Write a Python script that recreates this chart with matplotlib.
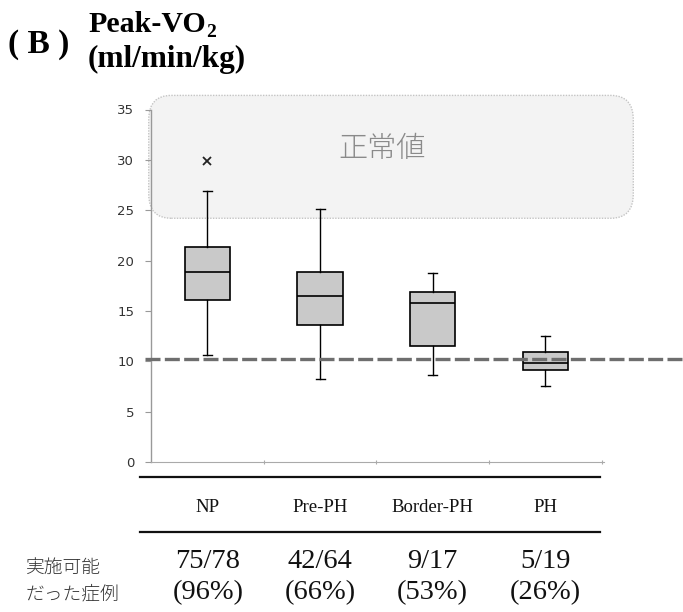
import matplotlib
matplotlib.use("Agg")
import matplotlib.pyplot as plt
from matplotlib.patches import FancyBboxPatch

# data
groups = ["NP", "Pre-PH", "Border-PH", "PH"]
whisker_low = [10.6, 8.2, 8.6, 7.5]
q1 = [16.1, 13.6, 11.5, 9.1]
median = [18.9, 16.5, 15.8, 9.8]
q3 = [21.3, 18.9, 16.9, 10.9]
whisker_high = [26.9, 25.1, 18.8, 12.5]
outliers = [[29.9], [], [], []]

done = ["75/78", "42/64", "9/17", "5/19"]
done_pct = ["(96%)", "(66%)", "(53%)", "(26%)"]

cutoff = 10.2
normal_low, normal_high = 24.2, 36.4

W, H = 683, 612
fig = plt.figure(figsize=(W / 100, H / 100), dpi=100)
ax = fig.add_axes([151 / W, 1 - 462 / H, 453 / W, (462 - 109.5) / H])

pos = list(range(1, len(groups) + 1))

# normal range band behind everything
band = FancyBboxPatch((0.48, normal_low), 4.3, normal_high - normal_low,
                      boxstyle="round,pad=0,rounding_size=0.2",
                      mutation_aspect=12,
                      facecolor="#f3f3f3", edgecolor="#c4c4c4",
                      linestyle=(0, (1, 1)), linewidth=1.0,
                      clip_on=False, zorder=0)
ax.add_patch(band)
ax.text(2.55, 31.1, "正常値", fontsize=21, color="#8a8a8a",
        family=["Noto Sans CJK JP", "DejaVu Sans"], fontweight="light",
        ha="center", va="center", zorder=1)

stats = []
for i, g in enumerate(groups):
    stats.append(dict(label=g, whislo=whisker_low[i], q1=q1[i], med=median[i],
                      q3=q3[i], whishi=whisker_high[i], fliers=outliers[i]))

ax.bxp(stats, positions=pos, widths=0.4, patch_artist=True,
       boxprops=dict(facecolor="#c9c9c9", edgecolor="black", linewidth=1.2),
       medianprops=dict(color="black", linewidth=1.2),
       whiskerprops=dict(color="black", linewidth=1.0),
       capprops=dict(color="black", linewidth=1.0),
       capwidths=0.08,
       flierprops=dict(marker="x", markeredgecolor="#222222", markersize=6,
                       markeredgewidth=1.3),
       zorder=3)

# cut-off line, runs past the axes on both sides
ax.plot([0.45, 5.25], [cutoff, cutoff], color="#6e6e6e", linewidth=2.4,
        dashes=(4.5, 1.3), clip_on=False, zorder=4)

ax.set_xlim(0.5, 4.52)
ax.set_ylim(0, 35)
ax.set_yticks(range(0, 36, 5))
ax.set_xticks([1.5, 2.5, 3.5, 4.5])
ax.set_xticklabels([])
ax.tick_params(axis="y", colors="#999999", labelcolor="#333333",
               labelsize=9.5, length=4, width=0.8, pad=8)
ax.tick_params(axis="x", colors="#aaaaaa", length=3, width=0.8,
               direction="inout")
for s in ["top", "right"]:
    ax.spines[s].set_visible(False)
ax.spines["left"].set_color("#999999")
ax.spines["bottom"].set_color("#aaaaaa")
ax.spines["left"].set_linewidth(1.0)
ax.spines["bottom"].set_linewidth(0.8)
ax.patch.set_alpha(0)

# title
serif = "Liberation Serif"
fig.text(8 / W, 1 - 53 / H, "( B )", fontsize=24, fontweight="bold",
         family=serif, va="baseline")
t1 = fig.text(88 / W, 1 - 32 / H, "Peak-VO", fontsize=21.5, fontweight="bold",
              family=serif, va="baseline")
ax.annotate("2", xy=(1.0, 0.0), xycoords=t1, xytext=(0.5, 1.0),
            textcoords="offset points", fontsize=14, fontweight="bold",
            family=serif, va="baseline", ha="left", annotation_clip=False)
fig.text(88 / W, 1 - 67 / H, "(ml/min/kg)", fontsize=22.5, fontweight="bold",
         family=serif, va="baseline")

# table under the chart
x_px = [208, 320, 432, 545]
for yl in [477, 532]:
    fig.add_artist(plt.Line2D([140 / W, 600 / W], [1 - yl / H, 1 - yl / H],
                              color="#111111", linewidth=1.6))
for i, g in enumerate(groups):
    fig.text(x_px[i] / W, 1 - 507 / H, g, fontsize=13.5, family=serif,
             ha="center", va="center", color="#111111")
    fig.text(x_px[i] / W, 1 - 561 / H, done[i], fontsize=20.5, family=serif,
             ha="center", va="center", color="#111111")
    fig.text(x_px[i] / W, 1 - 593 / H, done_pct[i], fontsize=20.5, family=serif,
             ha="center", va="center", color="#111111")

jp = ["Noto Sans CJK JP", "DejaVu Sans"]
fig.text(26 / W, 1 - 568 / H, "実施可能", fontsize=13.5, family=jp,
         fontweight="light", va="center", color="#333333")
fig.text(26 / W, 1 - 594 / H, "だった症例", fontsize=13.5, family=jp,
         fontweight="light", va="center", color="#333333")

fig.savefig("out.png", dpi=100)
